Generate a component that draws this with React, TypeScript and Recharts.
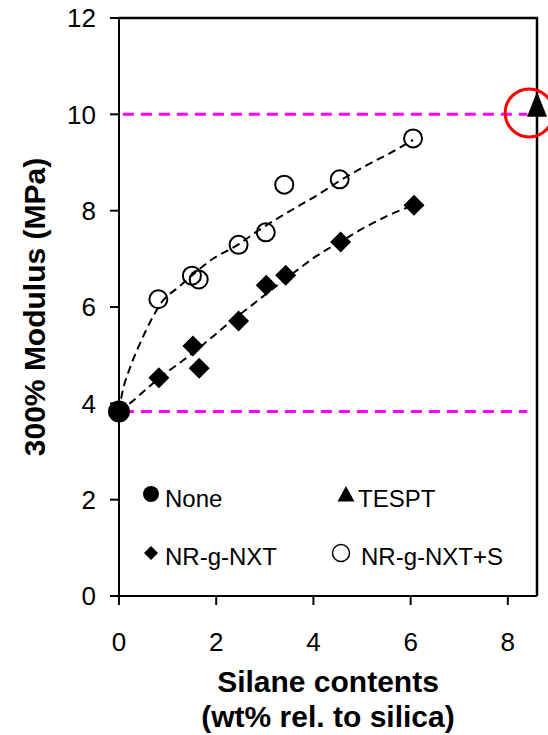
import {
  ComposedChart,
  XAxis,
  YAxis,
  Scatter,
  Line,
  ReferenceLine,
  ReferenceDot,
  Legend,
} from "recharts";

const xTicks = [0, 2, 4, 6, 8];
const yTicks = [0, 2, 4, 6, 8, 10, 12];

// measured points
const noneData = [{ x: 0, y: 3.83 }];
const tesptData = [{ x: 8.6, y: 10.2 }];

const nxtData = [
  { x: 0.82, y: 4.53 },
  { x: 1.52, y: 5.19 },
  { x: 1.65, y: 4.73 },
  { x: 2.46, y: 5.71 },
  { x: 3.03, y: 6.45 },
  { x: 3.43, y: 6.66 },
  { x: 4.56, y: 7.35 },
  { x: 6.07, y: 8.11 },
];

const nxtSData = [
  { x: 0.81, y: 6.16 },
  { x: 1.5, y: 6.65 },
  { x: 1.64, y: 6.57 },
  { x: 2.46, y: 7.29 },
  { x: 3.02, y: 7.55 },
  { x: 3.4, y: 8.54 },
  { x: 4.54, y: 8.65 },
  { x: 6.05, y: 9.5 },
];

// trend lines
const nxtFit = [
  { x: 0, y: 3.83 },
  { x: 0.25, y: 4.02 },
  { x: 0.5, y: 4.24 },
  { x: 0.82, y: 4.52 },
  { x: 1.25, y: 4.84 },
  { x: 1.5, y: 5.03 },
  { x: 1.9, y: 5.36 },
  { x: 2.25, y: 5.66 },
  { x: 2.75, y: 6.05 },
  { x: 3.0, y: 6.25 },
  { x: 3.45, y: 6.6 },
  { x: 3.75, y: 6.83 },
  { x: 4.05, y: 7.05 },
  { x: 4.55, y: 7.35 },
  { x: 5.0, y: 7.62 },
  { x: 5.5, y: 7.88 },
  { x: 6.07, y: 8.12 },
];

const nxtSFit = [
  { x: 0, y: 3.83 },
  { x: 0.05, y: 4.13 },
  { x: 0.23, y: 4.75 },
  { x: 0.37, y: 5.1 },
  { x: 0.54, y: 5.48 },
  { x: 0.71, y: 5.82 },
  { x: 0.85, y: 6.06 },
  { x: 1.22, y: 6.41 },
  { x: 1.46, y: 6.62 },
  { x: 1.9, y: 6.98 },
  { x: 2.46, y: 7.3 },
  { x: 2.84, y: 7.57 },
  { x: 3.53, y: 8.0 },
  { x: 4.14, y: 8.36 },
  { x: 4.54, y: 8.62 },
  { x: 5.11, y: 8.95 },
  { x: 5.66, y: 9.24 },
  { x: 6.05, y: 9.47 },
];

// top and right edges of the plot box (axis maxima)
const frameEdge = [
  { x: 0, y: 12 },
  { x: 8.6, y: 12 },
  { x: 8.6, y: 0 },
];

const tesptLevel = 10.0;
const noneLevel = 3.83;
const FONT = "'Liberation Sans', Arial, sans-serif";
const MAGENTA = "#FF00FF";
const axisStroke = { stroke: "#000", strokeWidth: 2 };

// eslint-disable-next-line @typescript-eslint/no-explicit-any
const FilledDot = (p: any) => <circle cx={p.cx} cy={p.cy} r={11} fill="#000" />;
// eslint-disable-next-line @typescript-eslint/no-explicit-any
const OpenDot = (p: any) => (
  <circle cx={p.cx} cy={p.cy} r={9} fill="none" stroke="#000" strokeWidth={2} />
);
// eslint-disable-next-line @typescript-eslint/no-explicit-any
const Diamond = (p: any) => {
  const s = 10.5;
  return (
    <path
      d={`M${p.cx},${p.cy - s}L${p.cx + s},${p.cy}L${p.cx},${p.cy + s}L${p.cx - s},${p.cy}Z`}
      fill="#000"
    />
  );
};
// eslint-disable-next-line @typescript-eslint/no-explicit-any
const Triangle = (p: any) => (
  <path
    d={`M${p.cx},${p.cy - 13}L${p.cx + 10},${p.cy + 12}L${p.cx - 10},${p.cy + 12}Z`}
    fill="#000"
  />
);
const NoShape = () => <g />;

// eslint-disable-next-line @typescript-eslint/no-explicit-any
function XTitle({ viewBox }: any) {
  const cx = viewBox.x + viewBox.width / 2;
  return (
    <text textAnchor="middle" fontFamily={FONT} fontWeight="bold" fontSize={30} fill="#000">
      <tspan x={cx} y={viewBox.y + 96}>Silane contents</tspan>
      <tspan x={cx} y={viewBox.y + 131}>(wt% rel. to silica)</tspan>
    </text>
  );
}

// eslint-disable-next-line @typescript-eslint/no-explicit-any
function YTitle({ viewBox }: any) {
  const cy = viewBox.y + viewBox.height / 2;
  return (
    <text
      x={45}
      y={cy}
      transform={`rotate(-90, 45, ${cy})`}
      textAnchor="middle"
      fontFamily={FONT}
      fontWeight="bold"
      fontSize={30}
      fill="#000"
    >
      300% Modulus (MPa)
    </text>
  );
}

function LegendBox() {
  const t = { fontFamily: FONT, fontSize: 24, fill: "#000" };
  return (
    <svg width={548} height={735} style={{ position: "absolute", left: 0, top: 0 }}>
      <circle cx={151} cy={494} r={8} fill="#000" />
      <text x={165} y={506.5} {...t}>None</text>
      <path d="M346,486L354.5,501.5L337.5,501.5Z" fill="#000" />
      <text x={358} y={506.5} {...t}>TESPT</text>
      <path d="M151,546L158,553L151,560L144,553Z" fill="#000" />
      <text x={165} y={565} {...t}>NR-g-NXT</text>
      <circle cx={341} cy={553} r={8.5} fill="none" stroke="#000" strokeWidth={1.5} />
      <text x={361} y={565} {...t}>NR-g-NXT+S</text>
    </svg>
  );
}

export default function App() {
  return (
    <div style={{ position: "absolute", left: 0, top: 0, width: 548, height: 735, background: "#fff" }}>
      <ComposedChart
        width={548}
        height={735}
        margin={{ top: 18, right: 11, bottom: 79, left: 0 }}
      >
        <XAxis
          dataKey="x"
          type="number"
          domain={[0, 8.6]}
          ticks={xTicks}
          height={60}
          tickSize={9}
          tickMargin={28}
          axisLine={axisStroke}
          tickLine={axisStroke}
          tick={{ fill: "#000", fontSize: 26, fontFamily: FONT }}
          label={{ content: XTitle }}
        />
        <YAxis
          dataKey="y"
          type="number"
          domain={[0, 12]}
          ticks={yTicks}
          width={119}
          tickSize={9}
          tickMargin={14}
          axisLine={axisStroke}
          tickLine={axisStroke}
          tick={{ fill: "#000", fontSize: 26, fontFamily: FONT }}
          label={{ content: YTitle }}
        />
        {/* top and right edge of the plot box */}
        <Scatter
          data={frameEdge}
          dataKey="y"
          shape={NoShape}
          line={{ stroke: "#000", strokeWidth: 2.5 }}
          lineType="joint"
          isAnimationActive={false}
        />
        <Line
          data={nxtSFit}
          dataKey="y"
          type="monotone"
          stroke="#000"
          strokeWidth={2}
          strokeDasharray="8 5"
          dot={false}
          activeDot={false}
          isAnimationActive={false}
        />
        <Line
          data={nxtFit}
          dataKey="y"
          type="monotone"
          stroke="#000"
          strokeWidth={2}
          strokeDasharray="8 5"
          dot={false}
          activeDot={false}
          isAnimationActive={false}
        />
        <Scatter data={nxtSData} dataKey="y" shape={OpenDot} isAnimationActive={false} />
        <Scatter data={nxtData} dataKey="y" shape={Diamond} isAnimationActive={false} />
        <Scatter data={noneData} dataKey="y" shape={FilledDot} isAnimationActive={false} />
        <Scatter data={tesptData} dataKey="y" shape={Triangle} isAnimationActive={false} />
        <ReferenceLine
          segment={[{ x: 0.08, y: tesptLevel }, { x: 8.4, y: tesptLevel }]}
          stroke={MAGENTA}
          strokeWidth={3}
          strokeDasharray="11 7"
        />
        <ReferenceLine
          segment={[{ x: 0.08, y: noneLevel }, { x: 8.4, y: noneLevel }]}
          stroke={MAGENTA}
          strokeWidth={3}
          strokeDasharray="11 7"
        />
        <ReferenceDot
          x={8.44}
          y={10.03}
          r={24}
          fill="none"
          stroke="#FF0000"
          strokeWidth={3}
          ifOverflow="visible"
        />
        <Legend
          layout="horizontal"
          verticalAlign="middle"
          align="center"
          wrapperStyle={{ left: 0, top: 0, width: 548, height: 735, pointerEvents: "none" }}
          content={() => <LegendBox />}
        />
      </ComposedChart>
    </div>
  );
}
